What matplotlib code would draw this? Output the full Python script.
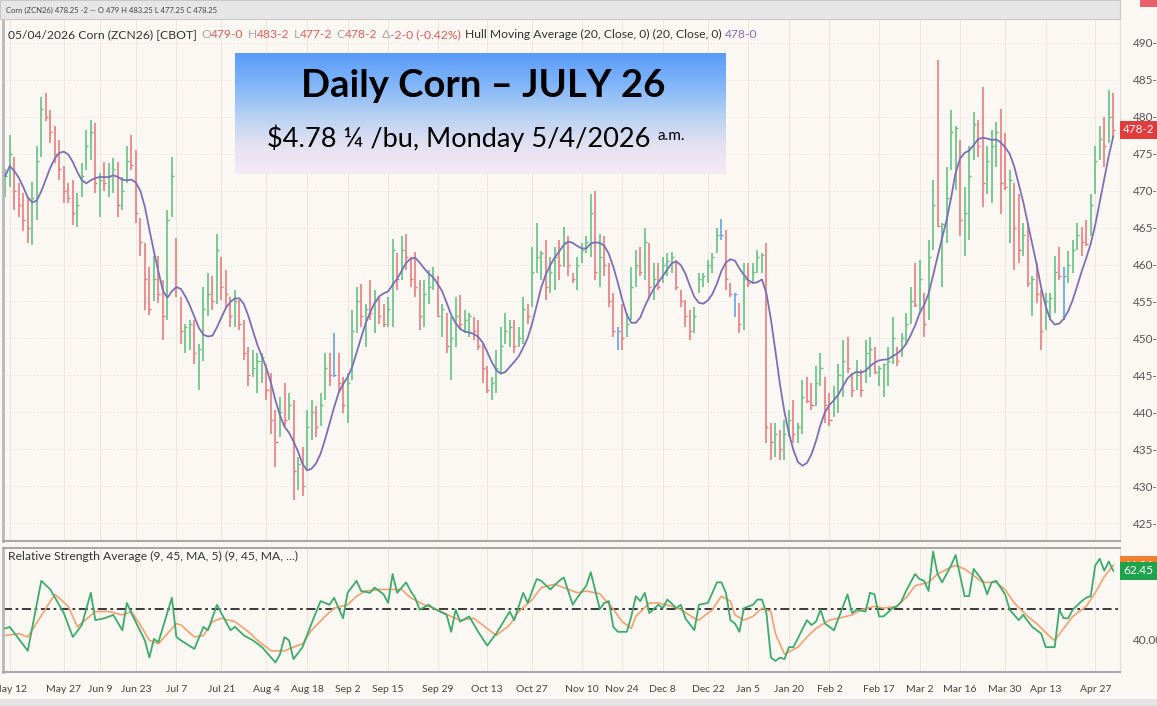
import numpy as np
import matplotlib
matplotlib.use("Agg")
import matplotlib.pyplot as plt
from matplotlib.colors import LinearSegmentedColormap
from matplotlib.patches import Rectangle

plt.rcParams['font.family'] = ['Lato', 'DejaVu Sans']

# ---------------- data ----------------
prev_close = 470.5

highs = [
    473.0, 477.5, 474.6, 471.0, 469.7, 469.2, 471.2, 476.0, 482.7, 483.2,
    480.9, 478.7, 476.9, 473.3, 471.0, 471.5, 469.7, 473.7, 478.2, 479.6,
    479.1, 472.4, 473.9, 473.7, 474.4, 473.9, 471.9, 476.0, 477.5, 475.5,
    466.3, 462.9, 459.7, 461.1, 461.1, 457.9, 467.4, 474.6, 463.6, 455.6,
    452.0, 452.5, 452.5, 449.3, 457.0, 458.8, 458.4, 464.2, 461.0, 459.3,
    455.6, 456.5, 455.2, 452.5, 448.9, 448.4, 448.0, 448.0, 446.6, 445.3,
    440.3, 442.1, 443.9, 442.6, 441.7, 434.0, 435.3, 440.3, 441.7, 440.8,
    442.6, 448.0, 448.0, 450.7, 448.0, 444.8, 445.3, 453.8, 457.0, 457.4,
    454.7, 457.9, 456.5, 455.6, 454.7, 455.6, 463.5, 461.5, 463.8, 464.2,
    461.0, 461.7, 457.9, 457.9, 459.3, 459.7, 458.4, 454.7, 453.4, 452.9,
    455.6, 455.9, 453.8, 453.4, 452.9, 452.5, 449.3, 446.2, 444.8, 448.4,
    451.6, 453.4, 452.5, 452.5, 451.6, 455.6, 454.7, 462.4, 465.6, 461.9,
    463.3, 461.0, 462.4, 463.3, 465.1, 463.8, 458.8, 461.0, 462.9, 463.8,
    469.6, 470.0, 464.2, 463.8, 460.2, 456.1, 451.6, 454.7, 453.4, 459.7,
    462.0, 462.4, 464.9, 462.9, 460.2, 460.2, 461.0, 461.5, 461.7, 460.6,
    456.5, 455.2, 453.8, 454.3, 458.8, 458.8, 460.6, 461.5, 464.9, 466.2,
    464.7, 457.5, 456.1, 454.8, 460.2, 460.2, 460.2, 462.0, 461.5, 462.9,
    438.5, 438.5, 437.6, 439.0, 440.3, 441.7, 438.5, 444.4, 444.8, 443.9,
    446.2, 448.0, 444.8, 442.6, 443.5, 446.6, 449.8, 450.2, 445.3, 447.1,
    445.7, 449.8, 450.2, 448.9, 446.2, 446.6, 448.9, 452.9, 448.9, 450.7,
    453.4, 457.0, 460.2, 460.6, 456.1, 463.3, 471.4, 487.7, 465.6, 473.2,
    480.9, 478.7, 476.9, 470.5, 476.0, 480.7, 479.6, 484.1, 476.0, 478.2,
    479.3, 481.1, 477.8, 472.8, 471.0, 469.6, 465.6, 465.6, 458.4, 460.2,
    456.5, 456.1, 456.1, 461.1, 462.4, 459.7, 461.9, 463.3, 465.6, 465.1,
    466.0, 469.6, 476.0, 478.7, 480.0, 483.6, 483.25,
]

lows = [
    469.2, 470.5, 467.4, 466.5, 464.5, 462.9, 462.7, 466.0, 474.6, 479.4,
    476.4, 473.7, 471.5, 468.3, 468.3, 465.4, 465.1, 469.2, 472.8, 474.2,
    469.7, 466.5, 469.9, 469.2, 469.7, 466.5, 467.4, 471.0, 472.8, 465.6,
    461.1, 453.9, 453.2, 455.0, 454.8, 449.8, 452.5, 466.5, 455.6, 449.3,
    448.0, 448.4, 446.6, 443.0, 447.0, 453.0, 453.8, 454.7, 455.2, 454.3,
    451.6, 451.6, 451.1, 447.1, 443.5, 444.8, 442.6, 443.9, 441.7, 437.1,
    432.6, 436.7, 438.1, 439.0, 428.1, 429.5, 428.6, 432.2, 436.2, 436.7,
    438.1, 441.7, 443.5, 444.8, 442.6, 439.9, 438.5, 444.4, 450.7, 451.6,
    448.9, 452.5, 450.7, 452.0, 451.6, 451.6, 451.6, 456.5, 457.9, 459.3,
    457.0, 455.6, 451.1, 451.6, 454.7, 456.5, 452.9, 450.2, 448.0, 444.4,
    448.9, 451.1, 450.7, 450.2, 449.8, 448.4, 443.9, 442.6, 441.7, 442.6,
    445.3, 449.3, 448.9, 448.0, 448.9, 449.3, 452.0, 454.3, 458.8, 457.9,
    455.2, 456.1, 456.5, 457.9, 459.7, 458.4, 457.5, 456.5, 460.2, 461.5,
    461.0, 457.9, 457.0, 458.4, 454.3, 450.2, 448.4, 448.4, 450.2, 452.5,
    457.0, 458.4, 457.9, 455.6, 455.2, 456.5, 457.5, 458.4, 458.8, 456.5,
    454.3, 451.6, 449.8, 450.7, 456.1, 457.0, 457.5, 458.8, 461.5, 463.3,
    456.5, 455.6, 452.9, 450.7, 451.1, 457.0, 457.5, 458.8, 458.8, 435.8,
    433.5, 434.0, 433.5, 433.5, 436.7, 435.8, 435.8, 437.1, 441.2, 440.3,
    440.8, 443.5, 438.5, 438.1, 439.4, 439.9, 442.1, 445.3, 442.1, 443.0,
    442.1, 443.9, 444.8, 445.2, 443.5, 442.1, 443.5, 446.6, 446.2, 447.5,
    449.3, 452.0, 454.3, 453.4, 450.2, 452.5, 462.0, 465.1, 457.0, 462.9,
    472.8, 470.1, 463.8, 461.1, 463.3, 474.2, 474.6, 467.8, 469.6, 468.3,
    473.2, 466.9, 470.1, 462.9, 459.3, 460.2, 461.1, 457.0, 453.0, 454.8,
    448.4, 451.1, 452.5, 453.4, 457.9, 452.5, 457.5, 458.8, 462.0, 461.1,
    462.5, 463.8, 469.6, 474.2, 473.2, 476.4, 477.25,
]

closes = [
    472.0, 475.0, 470.0, 468.0, 466.0, 465.0, 469.0, 474.0, 481.0, 480.0,
    478.0, 475.0, 473.0, 470.0, 469.0, 467.0, 468.0, 472.0, 476.0, 478.0,
    471.0, 471.5, 471.0, 472.0, 473.0, 468.0, 470.0, 474.0, 473.5, 467.0,
    463.0, 458.0, 454.0, 458.0, 456.0, 453.0, 466.0, 472.0, 457.0, 451.0,
    451.5, 452.0, 448.0, 448.5, 454.0, 456.0, 455.0, 462.0, 457.0, 456.0,
    453.0, 455.0, 452.0, 448.0, 445.0, 446.0, 447.0, 447.5, 443.0, 439.0,
    436.0, 440.0, 439.0, 441.0, 432.0, 433.0, 430.0, 438.0, 440.0, 438.0,
    441.0, 446.0, 445.0, 445.0, 444.0, 441.0, 444.0, 451.0, 455.0, 453.0,
    454.0, 453.5, 455.0, 453.0, 452.0, 454.0, 462.0, 458.0, 462.0, 461.0,
    458.0, 457.0, 453.0, 456.0, 457.0, 458.0, 453.0, 454.0, 449.0, 450.0,
    453.0, 452.0, 452.5, 453.0, 451.0, 449.0, 446.0, 443.0, 444.0, 446.0,
    449.0, 451.0, 451.5, 449.0, 450.0, 454.0, 453.0, 459.0, 461.0, 461.5,
    457.0, 459.0, 461.0, 460.0, 463.0, 460.0, 458.0, 460.0, 462.0, 463.0,
    467.0, 459.0, 461.0, 460.0, 455.0, 451.0, 451.0, 450.0, 452.0, 457.0,
    460.0, 459.0, 463.0, 457.0, 458.0, 457.0, 460.0, 460.5, 461.0, 457.0,
    455.0, 453.0, 451.0, 453.0, 458.0, 458.5, 460.0, 461.0, 464.0, 464.0,
    458.0, 456.0, 456.0, 452.0, 458.0, 457.5, 459.0, 461.0, 461.25, 438.0,
    436.0, 437.0, 435.0, 437.0, 439.0, 437.0, 438.0, 442.0, 441.5, 441.0,
    444.0, 446.0, 441.0, 439.0, 442.0, 445.0, 447.0, 446.0, 443.0, 445.0,
    443.0, 448.0, 448.5, 445.5, 446.0, 446.5, 447.0, 450.0, 447.0, 450.0,
    452.0, 455.0, 454.5, 458.0, 452.0, 461.0, 468.0, 465.2, 465.5, 469.0,
    478.0, 478.5, 466.0, 467.0, 472.0, 479.0, 476.0, 471.0, 474.0, 476.0,
    478.0, 471.0, 470.5, 471.5, 465.0, 462.0, 464.0, 457.5, 458.0, 456.0,
    451.0, 455.0, 455.5, 459.0, 458.5, 458.5, 460.0, 462.0, 464.0, 463.0,
    462.8, 468.0, 474.0, 477.0, 476.0, 480.0, 478.25,
]

rsi_bars = [
    0, 1, 5, 8, 10, 13, 15, 17, 19, 20, 22, 24, 26, 27, 28, 31, 32, 33, 34, 37,
    38, 39, 42, 44, 45, 47, 49, 50, 51, 53, 55, 57, 60, 61, 62, 63, 64, 66, 68, 70,
    72, 73, 75, 76, 78, 79, 81, 82, 84, 85, 86, 87, 89, 90, 91, 92, 94, 95, 98, 99,
    100, 101, 103, 105, 107, 109, 112, 113, 115, 116, 118, 119, 121, 123, 124, 126, 127, 129, 130, 132,
    133, 134, 135, 136, 138, 139, 140, 141, 142, 143, 145, 146, 147, 149, 150, 151, 153, 154, 156, 157,
    158, 159, 160, 161, 162, 163, 164, 166, 167, 168, 169, 170, 171, 172, 173, 174, 175, 178, 179, 180,
    181, 182, 184, 185, 187, 188, 189, 191, 192, 193, 194, 195, 197, 198, 199, 200, 202, 203, 204, 205,
    206, 207, 208, 210, 211, 213, 214, 215, 217, 218, 219, 220, 222, 223, 225, 226, 228, 230, 231, 233,
    234, 235, 236, 237, 239, 240, 241, 242, 243, 244, 245, 246,
]
rsi_vals = [
    43.7, 44.2, 36.4, 59.2, 56.4, 48.7, 40.9, 44.8, 55.3, 46.4, 47.0, 48.1, 43.1, 52.0, 48.7, 39.8, 34.2, 40.3, 39.2, 53.7,
    40.9, 39.8, 37.0, 44.2, 43.1, 51.4, 45.9, 43.1, 44.2, 41.4, 39.8, 37.6, 32.6, 35.3, 40.9, 39.8, 33.7, 37.6, 45.3, 52.6,
    51.4, 53.7, 47.0, 55.3, 59.2, 55.9, 55.3, 57.0, 54.8, 52.0, 61.4, 55.3, 58.7, 55.9, 53.7, 49.8, 51.4, 50.3, 48.1, 42.6,
    49.8, 45.9, 47.6, 42.6, 38.1, 42.0, 49.2, 46.4, 55.3, 52.0, 59.8, 59.2, 56.4, 59.2, 60.3, 51.4, 53.7, 57.6, 62.0, 50.0,
    52.0, 52.6, 44.2, 42.6, 42.6, 47.6, 54.2, 52.6, 55.3, 48.7, 51.4, 50.3, 53.1, 50.3, 51.4, 47.0, 43.1, 51.4, 52.0, 55.3,
    58.7, 58.7, 55.3, 46.4, 45.3, 42.6, 50.3, 51.4, 53.1, 53.1, 48.7, 34.2, 33.1, 34.2, 33.7, 37.6, 37.6, 46.4, 44.8, 45.9,
    49.8, 45.3, 43.1, 47.0, 54.8, 48.7, 49.8, 49.2, 55.3, 54.8, 47.6, 47.6, 50.3, 50.9, 52.6, 55.9, 61.4, 59.8, 59.2, 55.9,
    68.7, 61.4, 58.7, 64.2, 67.6, 54.2, 54.2, 63.1, 59.2, 54.8, 58.7, 59.2, 54.8, 49.8, 46.4, 48.1, 44.2, 42.0, 37.6, 37.6,
    49.8, 47.0, 47.0, 49.8, 52.6, 53.7, 54.2, 64.2, 66.4, 62.5, 65.5, 62.45,
]
avg_bars = [
    0, 3, 5, 11, 14, 16, 20, 23, 26, 28, 30, 32, 34, 38, 39, 42, 44, 46, 48, 51,
    54, 56, 59, 62, 64, 66, 68, 71, 73, 76, 78, 80, 83, 86, 88, 90, 93, 96, 99, 101,
    104, 106, 109, 112, 114, 117, 119, 122, 124, 127, 129, 132, 135, 137, 139, 140, 143, 145, 148, 150,
    153, 154, 157, 159, 161, 162, 164, 166, 168, 170, 171, 173, 176, 178, 180, 183, 185, 188, 190, 193,
    195, 198, 200, 202, 205, 207, 210, 211, 213, 215, 217, 220, 222, 224, 227, 229, 232, 233, 235, 237,
    240, 242, 244, 246,
]
avg_vals = [
    41.4, 42.0, 40.9, 54.8, 50.9, 44.2, 49.2, 49.2, 48.1, 49.2, 44.8, 39.8, 38.7, 45.3, 44.8, 40.9, 41.4, 45.9, 47.0, 45.9,
    42.6, 39.8, 36.4, 36.4, 37.6, 38.7, 43.1, 47.6, 50.3, 51.4, 54.2, 55.9, 56.4, 56.4, 56.4, 53.7, 51.4, 49.8, 47.6, 46.4,
    47.0, 44.8, 41.4, 44.8, 49.2, 53.1, 57.0, 58.1, 57.0, 55.3, 55.9, 55.0, 50.0, 45.9, 43.7, 47.6, 52.0, 52.0, 50.9, 49.8,
    47.0, 46.4, 49.8, 54.2, 52.6, 48.1, 46.4, 47.6, 50.3, 49.2, 42.0, 35.3, 37.6, 40.9, 43.7, 46.4, 47.0, 48.1, 49.8, 50.9,
    50.3, 50.9, 53.7, 57.6, 58.7, 61.4, 63.7, 64.2, 63.1, 60.9, 58.7, 58.7, 56.4, 52.0, 47.6, 45.3, 40.9, 39.8, 43.7, 47.6,
    50.9, 55.3, 60.5, 64.26,
]

tick_bars = [1, 13, 21, 29, 38, 48, 58, 67, 76, 85, 96, 107, 117,
             128, 137, 146, 156, 165, 174, 183, 194, 203, 212, 222, 231, 242]
tick_labels = ['May 12', 'May 27', 'Jun 9', 'Jun 23', 'Jul 7', 'Jul 21', 'Aug 4',
               'Aug 18', 'Sep 2', 'Sep 15', 'Sep 29', 'Oct 13', 'Oct 27', 'Nov 10',
               'Nov 24', 'Dec 8', 'Dec 22', 'Jan 5', 'Jan 20', 'Feb 2', 'Feb 17',
               'Mar 2', 'Mar 16', 'Mar 30', 'Apr 13', 'Apr 27']

q_open, q_high, q_low, q_close = 479.0, 483.25, 477.25, 478.25
q_chg, q_pct = -2.0, -0.42
hull_last = 478.0
rsi_last, rsi_avg_last = 62.45, 64.26

GREEN, RED, BLUE = '#5fbf80', '#e8777a', '#5b9fe2'
BG = '#fbf8f3'


def fmt8(p):
    w = int(np.floor(p))
    return '%d-%d' % (w, int(round((p - w) * 8)))


def wma(x, n):
    out = np.empty(len(x))
    for i in range(len(x)):
        w = x[max(0, i - n + 1):i + 1]
        k = np.arange(1, len(w) + 1)
        out[i] = (w * k).sum() / k.sum()
    return out


def hull(x, n=20):
    return wma(2 * wma(x, n // 2) - wma(x, n), int(np.sqrt(n)))


H = np.array(highs)
L = np.array(lows)
C = np.array(closes)
xs = np.arange(len(C))
prev = np.concatenate([[prev_close], C[:-1]])
cols = np.where(C > prev, GREEN, np.where(C < prev, RED, BLUE))
hma = hull(C, 20)

# ---------------- figure ----------------
W, Hpx = 1157, 706
fig = plt.figure(figsize=(W / 100, Hpx / 100), dpi=100, facecolor=BG)


def box(x0, y0, x1, y1):
    return [x0 / W, 1 - y1 / Hpx, (x1 - x0) / W, (y1 - y0) / Hpx]


ax = fig.add_axes(box(3, 20, 1120, 541))
ax2 = fig.add_axes(box(3, 548, 1120, 672))

for a in (ax, ax2):
    a.set_facecolor(BG)
    a.set_xlim(-0.5, len(C) + 0.5)
    for t in tick_bars:
        a.axvline(t, color='#ece8e0', lw=0.8, zorder=0)
    a.spines['left'].set_color('#b8b8b8')
    a.spines['left'].set_linewidth(2)
    a.spines['right'].set_color('#dedede')
    a.spines['top'].set_visible(False)
    a.spines['bottom'].set_color('#a8a8a8')
    a.spines['bottom'].set_linewidth(1.5)
    a.yaxis.tick_right()
    a.tick_params(axis='y', length=0, pad=9, labelsize=8.5, labelcolor='#555555')

# price pane
ax.set_ylim(422.57, 493.11)
price_ticks = np.arange(425, 491, 5)
ax.set_yticks(price_ticks)
ax.set_yticklabels([fmt8(p) for p in price_ticks])
for p in price_ticks:
    ax.axhline(p, color='#ebe6dd', lw=0.6, ls=(0, (2, 2)), zorder=0)
ax.set_xticks([])

ax.vlines(xs, L, H, colors=cols, lw=1.15, zorder=2)
ax.hlines(C, xs, xs + 0.45, colors=cols, lw=1.0, zorder=2)
ax.plot(xs, hma, color='#7b70b6', lw=1.3, zorder=3)

ax.text(1.003, q_close, fmt8(q_close), transform=ax.get_yaxis_transform(),
        ha='left', va='center', color='white', fontsize=8.5, clip_on=False,
        bbox=dict(boxstyle='square,pad=0.3', fc='#e23b3b', ec='none'), zorder=5)

# RSI pane
ax2.spines['top'].set_visible(True)
ax2.spines['top'].set_color('#a8a8a8')
ax2.spines['top'].set_linewidth(1.5)
ax2.set_ylim(29.5, 69.9)
ax2.set_yticks([40])
ax2.set_yticklabels(['40.00'])
ax2.axhline(50, color='#2b2b2b', lw=1.3, ls=(0, (5, 2, 1.5, 2)), zorder=1)
ax2.plot(avg_bars, avg_vals, color='#f3a170', lw=1.2, zorder=2)
ax2.plot(rsi_bars, rsi_vals, color='#3cab6c', lw=1.3, zorder=3)
ax2.set_xticks(tick_bars)
ax2.set_xticklabels(tick_labels)
ax2.tick_params(axis='x', length=0, pad=9, labelsize=7.5, labelcolor='#444444')

ax2.text(1.003, rsi_avg_last, '%.2f' % rsi_avg_last, transform=ax2.get_yaxis_transform(),
         ha='left', va='center', color='white', fontsize=8.5, clip_on=False,
         bbox=dict(boxstyle='square,pad=0.3', fc='#f08030', ec='none'), zorder=4)
ax2.text(1.003, rsi_last, '%.2f' % rsi_last, transform=ax2.get_yaxis_transform(),
         ha='left', va='center', color='white', fontsize=8.5, clip_on=False,
         bbox=dict(boxstyle='square,pad=0.3', fc='#1ca34c', ec='none'), zorder=5)

# top and bottom strips
fig.patches.append(Rectangle((0, 1 - 19 / Hpx), 1120 / W, 19 / Hpx, transform=fig.transFigure,
                             fc='#e6e6e6', ec='#c8c8c8', lw=0.8))
fig.patches.append(Rectangle((1140 / W, 1 - 7 / Hpx), 17 / W, 7 / Hpx, transform=fig.transFigure,
                             fc='#e8606a', ec='none'))
fig.patches.append(Rectangle((0, 0), 1, 7 / Hpx, transform=fig.transFigure,
                             fc='#e3e3e3', ec='none'))
fig.text(6 / W, 1 - 10 / Hpx, 'Corn (ZCN26) %s %d \u2014 O %g H %g L %g C %g'
         % (q_close, q_chg, q_open, q_high, q_low, q_close),
         fontsize=5.5, color='#444444', va='center')


def chain(x, y, pieces, size):
    t = fig.text(x, y, pieces[0][0], color=pieces[0][1], fontsize=size, va='bottom')
    for s, c, gap in pieces[1:]:
        t = ax.annotate(s, xy=(1, 0), xycoords=t, xytext=(gap, 0), textcoords='offset points',
                        color=c, fontsize=size, va='bottom', annotation_clip=False)
    return t


LG, RD, DK = '#a8a8a8', '#e25c5c', '#333333'
chain(8 / W, 1 - 40 / Hpx, [
    ('05/04/2026 Corn (ZCN26) [CBOT]', DK),
    ('O', LG, 3), (fmt8(q_open), RD, 0),
    ('H', LG, 3), (fmt8(q_high), RD, 0),
    ('L', LG, 3), (fmt8(q_low), RD, 0),
    ('C', LG, 3), (fmt8(q_close), RD, 0),
    ('\u0394', LG, 3), ('%s (%.2f%%)' % (fmt8(q_chg), q_pct), RD, 0),
    ('Hull Moving Average (20, Close, 0) (20, Close, 0)', DK, 3),
    (fmt8(hull_last), '#7b70b6', 3),
], 8.7)

chain(8 / W, 1 - 562 / Hpx, [
    ('Relative Strength Average (9, 45, MA, 5) (9, 45, MA, ...)', DK),
    ('%.2f' % rsi_last, '#2faa5f', 3),
    ('%.2f' % rsi_avg_last, '#f3a170', 3),
], 8.7)

# title box with gradient
tb = fig.add_axes(box(235, 53, 725, 174))
grad = LinearSegmentedColormap.from_list('g', ['#5a9bfa', '#7fb4f8', '#b3cff3', '#e2e1f1', '#f8e9f6'])
tb.imshow(np.linspace(0, 1, 256)[:, None], aspect='auto', cmap=grad, extent=[0, 1, 0, 1])
tb.axis('off')

fig.text(483 / W, 1 - 97 / Hpx, 'Daily Corn \u2013 JULY 26', fontsize=27.5, fontweight='bold',
         ha='center', va='baseline', color='black')
sub = fig.text(267 / W, 1 - 147 / Hpx, '$4.78 \u00bc /bu, Monday 5/4/2026', fontsize=19.5,
               ha='left', va='baseline', color='black')
tb.annotate('a.m.', xy=(1, 1), xycoords=sub, xytext=(5, -3), textcoords='offset points',
            fontsize=11, va='top', ha='left', color='black', annotation_clip=False)

fig.savefig('out.png', dpi=100, facecolor=BG)
